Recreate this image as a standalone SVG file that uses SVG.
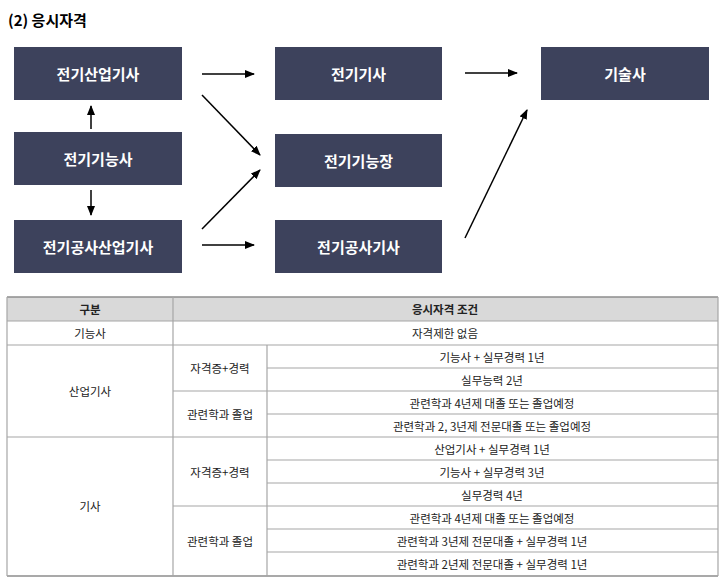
<svg xmlns="http://www.w3.org/2000/svg" width="726" height="586" viewBox="0 0 726 586">
<style>
.n{fill:#3d425c}
.nt{fill:#fff;font-family:"Noto Sans CJK KR","Noto Sans",sans-serif;font-size:15px;font-weight:bold;text-anchor:middle;dominant-baseline:central}
.c{stroke:#000;stroke-width:1.5;fill:none;marker-end:url(#a)}
.t{font-family:"Noto Sans CJK KR","Noto Sans",sans-serif;font-size:11.5px;text-anchor:middle;dominant-baseline:central;fill:#222}
.l{stroke:#a6a6a6;stroke-width:1.2}
</style>
<defs><marker id="a" markerWidth="10" markerHeight="8" refX="9" refY="4" orient="auto" markerUnits="userSpaceOnUse"><path d="M0,0L10,4L0,8z" fill="#000"/></marker></defs>
<rect width="726" height="586" fill="#fff"/>
<text x="8" y="19" font-family="'Noto Sans CJK KR','Noto Sans',sans-serif" font-size="15" font-weight="bold" dominant-baseline="central">(2) 응시자격</text>
<g id="n1"><rect class="n" x="14" y="47" width="168" height="53"/><text class="nt" x="98" y="73.5">전기산업기사</text></g>
<g id="n2"><rect class="n" x="14" y="132" width="168" height="53"/><text class="nt" x="98" y="158.5">전기기능사</text></g>
<g id="n3"><rect class="n" x="14" y="220" width="168" height="53"/><text class="nt" x="98" y="246.5">전기공사산업기사</text></g>
<g id="n4"><rect class="n" x="275" y="47" width="167" height="53"/><text class="nt" x="358.5" y="73.5">전기기사</text></g>
<g id="n5"><rect class="n" x="275" y="134" width="167" height="53"/><text class="nt" x="358.5" y="160.5">전기기능장</text></g>
<g id="n6"><rect class="n" x="275" y="220" width="167" height="53"/><text class="nt" x="358.5" y="246.5">전기공사기사</text></g>
<g id="n7"><rect class="n" x="541" y="47" width="168" height="53"/><text class="nt" x="625" y="73.5">기술사</text></g>
<g id="connectors">
<line class="c" x1="202" y1="74" x2="254" y2="74"/>
<line class="c" x1="202" y1="95" x2="260" y2="155"/>
<line class="c" x1="91" y1="129" x2="91" y2="106"/>
<line class="c" x1="91" y1="190" x2="91" y2="215"/>
<line class="c" x1="202" y1="229" x2="260" y2="170"/>
<line class="c" x1="202" y1="245" x2="254" y2="245"/>
<line class="c" x1="465" y1="73" x2="517" y2="73"/>
<line class="c" x1="465" y1="238" x2="527" y2="110"/>
</g>
<g id="table">
<rect x="7" y="297" width="711" height="24" fill="#d9d9d9"/>
<g class="l">
<line x1="7" y1="297" x2="718" y2="297" stroke="#8c8c8c" stroke-width="1.5"/>
<line x1="7" y1="321" x2="718" y2="321"/>
<line x1="7" y1="345" x2="718" y2="345"/>
<line x1="7" y1="437" x2="718" y2="437"/>
<line x1="7" y1="576" x2="718" y2="576" stroke="#8c8c8c" stroke-width="1.5"/>
<line x1="173" y1="391" x2="718" y2="391"/>
<line x1="173" y1="506" x2="718" y2="506"/>
<line x1="267" y1="368" x2="718" y2="368"/>
<line x1="267" y1="414" x2="718" y2="414"/>
<line x1="267" y1="460" x2="718" y2="460"/>
<line x1="267" y1="483" x2="718" y2="483"/>
<line x1="267" y1="529" x2="718" y2="529"/>
<line x1="267" y1="552" x2="718" y2="552"/>
<line x1="7" y1="297" x2="7" y2="576"/>
<line x1="718" y1="297" x2="718" y2="576"/>
<line x1="173" y1="297" x2="173" y2="576"/>
<line x1="267" y1="345" x2="267" y2="576"/>
</g>
<text class="t" x="90" y="309" font-weight="bold">구분</text>
<text class="t" x="445" y="309" font-weight="bold">응시자격 조건</text>
<text class="t" x="90" y="333">기능사</text>
<text class="t" x="445" y="333">자격제한 없음</text>
<text class="t" x="90" y="391">산업기사</text>
<text class="t" x="220" y="368">자격증+경력</text>
<text class="t" x="220" y="414">관련학과 졸업</text>
<text class="t" x="492" y="356.5">기능사 + 실무경력 1년</text>
<text class="t" x="492" y="379.5">실무능력 2년</text>
<text class="t" x="492" y="402.5">관련학과 4년제 대졸 또는 졸업예정</text>
<text class="t" x="492" y="425.5">관련학과 2, 3년제 전문대졸 또는 졸업예정</text>
<text class="t" x="90" y="506">기사</text>
<text class="t" x="220" y="471.5">자격증+경력</text>
<text class="t" x="220" y="541">관련학과 졸업</text>
<text class="t" x="492" y="448.5">산업기사 + 실무경력 1년</text>
<text class="t" x="492" y="471.5">기능사 + 실무경력 3년</text>
<text class="t" x="492" y="494.5">실무경력 4년</text>
<text class="t" x="492" y="517.5">관련학과 4년제 대졸 또는 졸업예정</text>
<text class="t" x="492" y="540.5">관련학과 3년제 전문대졸 + 실무경력 1년</text>
<text class="t" x="492" y="564">관련학과 2년제 전문대졸 + 실무경력 1년</text>
</g>
</svg>
